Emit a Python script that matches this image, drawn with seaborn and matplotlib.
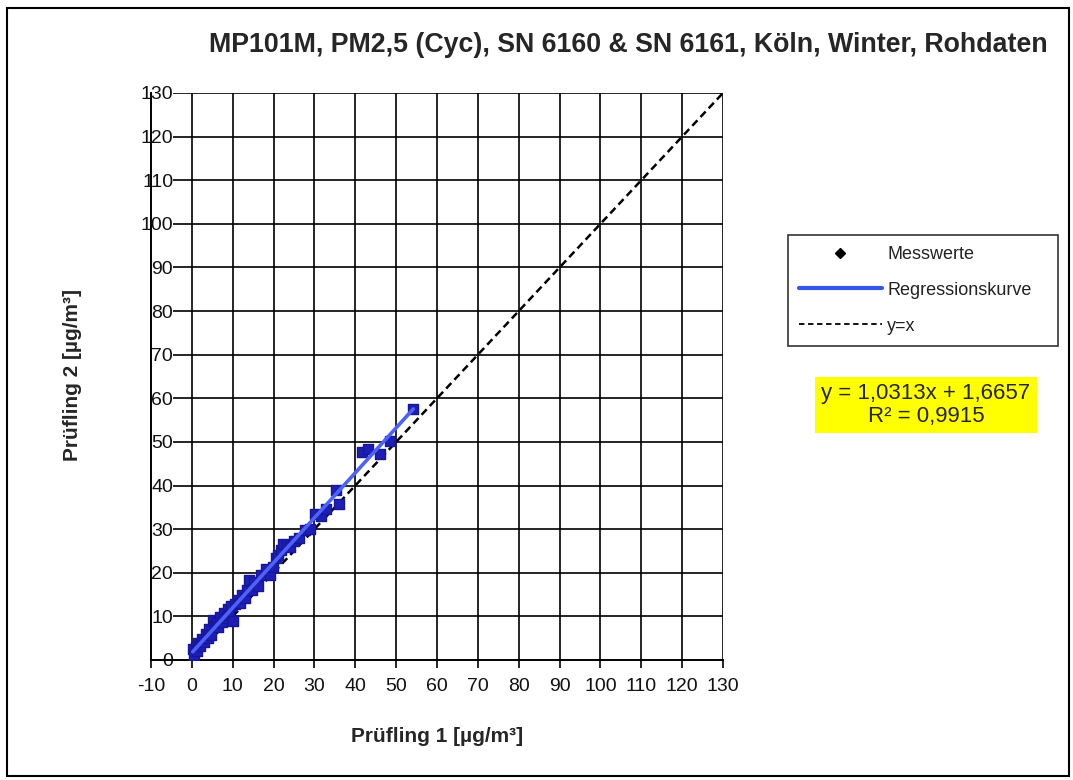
import numpy as np
import pandas as pd
import matplotlib
matplotlib.use("Agg")
import matplotlib.pyplot as plt
from matplotlib.lines import Line2D
from matplotlib.patches import Rectangle
import seaborn as sns

# Paired PM2.5 readings of the two candidate instruments (µg/m³)
pruefling_1 = [0.2, 0.5, 0.9, 1.3, 1.6, 2.1, 2.5, 3.0, 3.4, 3.9, 4.3, 4.8, 5.2, 5.6,
               6.1, 6.5, 7.0, 7.4, 7.9, 8.3, 8.8, 9.2, 9.7, 10.1, 10.6, 11.2, 11.8,
               12.3, 12.9, 13.5, 14.1, 14.6, 15.3, 16.2, 17.0, 18.1, 19.2, 19.8,
               20.6, 21.2, 21.7, 22.4, 23.3, 24.0, 25.1, 26.3, 27.6, 28.9, 30.2,
               31.5, 32.8, 35.2, 35.9, 41.7, 43.0, 46.0, 48.6, 54.2]
pruefling_2 = [2.6, 1.2, 2.9, 2.1, 3.9, 3.2, 4.9, 4.1, 5.9, 5.0, 7.1, 5.8, 9.2, 7.9,
               8.8, 7.6, 9.9, 8.7, 10.8, 9.7, 11.6, 10.4, 12.3, 9.0, 12.9, 13.8, 13.1,
               14.9, 14.2, 16.1, 18.4, 16.0, 17.9, 16.9, 19.6, 20.9, 19.5, 21.4,
               23.3, 24.0, 25.3, 26.5, 26.4, 25.8, 27.2, 28.0, 29.8, 30.1, 33.4,
               33.1, 34.6, 39.0, 35.7, 47.6, 48.4, 47.2, 50.3, 57.6]

# Linear regression result
slope = 1.0313
intercept = 1.6657
r_squared = 0.9915

x_ticks = list(range(-10, 131, 10))
y_ticks = list(range(0, 131, 10))

df = pd.DataFrame({"p1": pruefling_1, "p2": pruefling_2})

sns.set_theme(style="white")
plt.rcParams["font.family"] = ["Liberation Sans", "DejaVu Sans"]

fig = plt.figure(figsize=(10.73, 7.80), dpi=100)
ax = fig.add_axes([151 / 1073, 120 / 780, 572 / 1073, 567 / 780])
ax.set_facecolor("white")

# grid: vertical lines from x=0, horizontal lines right of the y labels
for xv in x_ticks[1:]:
    ax.vlines(xv, 0, 130, color="black", lw=1.2, zorder=1)
for yv in y_ticks[1:]:
    ax.hlines(yv, -4.6, 130, color="black", lw=1.2, zorder=1)

# bisector y = x
ident = np.array([0, 130])
ax.plot(ident, ident, color="black", lw=1.8, ls=(0, (3, 1.8)), zorder=2)

# measured pairs
sns.scatterplot(data=df, x="p1", y="p2", ax=ax, marker="s", s=62,
                color="#1e1eb4", edgecolor="#16169a", linewidth=1.0, zorder=3)

# regression line over the measured range
xr = np.array([min(pruefling_1), max(pruefling_1)])
sns.lineplot(x=xr, y=slope * xr + intercept, ax=ax, color="#4d63f7",
             lw=2.6, zorder=4)

ax.set_xlim(-10, 130)
ax.set_ylim(0, 130)
ax.set_xticks(x_ticks)
ax.set_yticks(y_ticks)
ax.set_xticklabels([str(v) for v in x_ticks])
ax.set_yticklabels([str(v) for v in y_ticks])

for side in ("top", "right"):
    ax.spines[side].set_visible(False)
for side in ("left", "bottom"):
    ax.spines[side].set_color("black")
    ax.spines[side].set_linewidth(1.4)

ax.tick_params(axis="x", direction="out", length=6, width=1.2, color="black",
               labelsize=14, labelcolor="#111111", pad=7, bottom=True)
ax.tick_params(axis="y", length=0, labelsize=14, labelcolor="#111111",
               pad=-16)
for lbl in ax.get_yticklabels():
    lbl.set_horizontalalignment("right")

ax.set_xlabel("Prüfling 1 [µg/m³]", fontsize=15, fontweight="bold",
              labelpad=23)
ax.set_ylabel("")
fig.text(73 / 1073, 1 - 375 / 780, "Prüfling 2 [µg/m³]", rotation=90,
         fontsize=15, fontweight="bold", ha="center", va="center")

fig.text(628 / 1073, 1 - 45 / 780,
         "MP101M, PM2,5 (Cyc), SN 6160 & SN 6161, Köln, Winter, Rohdaten",
         fontsize=19.3, fontweight="bold", ha="center", va="center")

handles = [
    Line2D([], [], color="black", marker="D", markersize=5, lw=0),
    Line2D([], [], color="#3355ee", lw=3),
    Line2D([], [], color="black", lw=1.3, ls=(0, (3, 2))),
]
leg = fig.legend(handles, ["Messwerte", "Regressionskurve", "y=x"],
                 loc="upper left",
                 bbox_to_anchor=(788 / 1073, 1 - 350 / 780,
                                 270 / 1073, 115 / 780),
                 mode="expand",
                 frameon=True, fancybox=False, shadow=False, fontsize=13,
                 handlelength=4.6, handletextpad=0.3, labelspacing=1.05,
                 borderpad=0.6, borderaxespad=0)
leg.get_frame().set_edgecolor("black")
leg.get_frame().set_linewidth(1.2)
for t in leg.get_texts():
    t.set_color("#222222")

fig.text(926 / 1073, 1 - 405 / 780,
         f"y = {slope:.4f}x + {intercept:.4f}".replace(".", ",")
         + "\n" + f"R² = {r_squared:.4f}".replace(".", ","),
         fontsize=16, ha="center", va="center", linespacing=1.1,
         bbox=dict(boxstyle="square,pad=0.3", facecolor="#ffff00",
                   edgecolor="none"))

fig.patches.append(Rectangle((7 / 1073, 4 / 780), 1062 / 1073, 768 / 780,
                             transform=fig.transFigure, fill=False,
                             edgecolor="black", lw=1.5))

fig.savefig("out.png", dpi=100, facecolor="white")
